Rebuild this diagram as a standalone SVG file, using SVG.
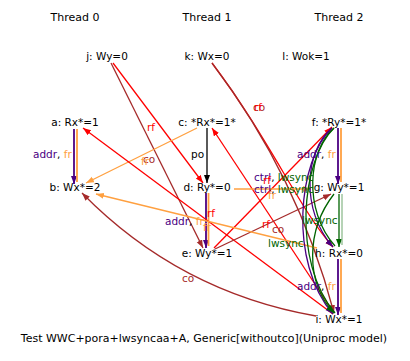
<svg xmlns="http://www.w3.org/2000/svg" width="410" height="361" viewBox="0 0 410 361">
<defs>
<style>
text{font-family:"DejaVu Sans","Liberation Sans",sans-serif;font-size:10.5px;fill:#000}
.th{font-size:11px;text-anchor:middle}
.nd{text-anchor:middle}
.cap{font-size:11px;text-anchor:middle}
.e{fill:none;stroke-width:1.3}
.d{fill:none;stroke-width:1.8}
.red{stroke:#ff0000}.brn{stroke:#a52a2a}.org{stroke:#ffa040}.pur{stroke:#4b0082}.blk{stroke:#000}.grn{stroke:#006400}.lgr{stroke:#8fbc8f}
.tred{fill:#ff0000}.tbrn{fill:#a52a2a}.torg{fill:#ffa040}.tpur{fill:#4b0082}.tgrn{fill:#006400}
</style>
<marker id="mred" markerUnits="userSpaceOnUse" markerWidth="9" markerHeight="7" refX="8" refY="3" orient="auto"><path d="M0,0L8,3L0,6z" fill="#ff0000"/></marker>
<marker id="mbrn" markerUnits="userSpaceOnUse" markerWidth="9" markerHeight="7" refX="8" refY="3" orient="auto"><path d="M0,0L8,3L0,6z" fill="#a52a2a"/></marker>
<marker id="morg" markerUnits="userSpaceOnUse" markerWidth="9" markerHeight="7" refX="8" refY="3" orient="auto"><path d="M0,0L8,3L0,6z" fill="#ffa040"/></marker>
<marker id="mpur" markerUnits="userSpaceOnUse" markerWidth="9" markerHeight="7" refX="8" refY="3" orient="auto"><path d="M0,0L8,3L0,6z" fill="#4b0082"/></marker>
<marker id="mblk" markerUnits="userSpaceOnUse" markerWidth="9" markerHeight="7" refX="8" refY="3" orient="auto"><path d="M0,0L8,3L0,6z" fill="#000"/></marker>
<marker id="mgrn" markerUnits="userSpaceOnUse" markerWidth="9" markerHeight="7" refX="8" refY="3" orient="auto"><path d="M0,0L8,3L0,6z" fill="#006400"/></marker>
</defs>
<rect width="410" height="361" fill="#fff"/>
<g id="threads">
<text class="th" x="75" y="21">Thread 0</text>
<text class="th" x="207" y="21">Thread 1</text>
<text class="th" x="339" y="21">Thread 2</text>
</g>
<g id="connectors">
<!-- a->b addr,fr -->
<line class="d pur" x1="74" y1="129" x2="74" y2="184" marker-end="url(#mpur)"/>
<line class="d org" x1="77" y1="129" x2="77" y2="182"/>
<!-- c->d po -->
<line class="e blk" x1="207" y1="128" x2="207" y2="183" marker-end="url(#mblk)"/>
<!-- d->e addr,fr -->
<line class="d pur" x1="206" y1="193" x2="206" y2="248" marker-end="url(#mpur)"/>
<line class="d org" x1="208.5" y1="193" x2="208.5" y2="246"/>
<!-- f->g addr,fr -->
<line class="d pur" x1="338" y1="128" x2="338" y2="184" marker-end="url(#mpur)"/>
<line class="d org" x1="341" y1="128" x2="341" y2="182"/>
<!-- h->i addr,fr -->
<line class="d pur" x1="338" y1="259" x2="338" y2="315" marker-end="url(#mpur)"/>
<line class="d org" x1="341" y1="259" x2="341" y2="313"/>
<!-- g->h lwsync -->
<line class="e grn" x1="339" y1="194" x2="339" y2="247" marker-end="url(#mgrn)"/>
<line class="e lgr" x1="342" y1="194" x2="342" y2="245"/>
<!-- j->d rf -->
<line class="e red" x1="113" y1="63" x2="203" y2="183" marker-end="url(#mred)"/>
<!-- j->e co -->
<line class="e brn" x1="111" y1="63" x2="203" y2="248" marker-end="url(#mbrn)"/>
<!-- c->b fr -->
<line class="e org" x1="197" y1="128" x2="86" y2="183" marker-end="url(#morg)"/>
<!-- k->h rf -->
<path class="e red" d="M212,63C270,140 300,210 333,247" marker-end="url(#mred)"/>
<!-- k->i co -->
<path class="e brn" d="M212,63Q298,176 334,313" marker-end="url(#mbrn)"/>
<!-- i->a rf -->
<line class="e red" x1="333" y1="314" x2="83" y2="128" marker-end="url(#mred)"/>
<!-- i->c rf -->
<line class="e red" x1="334" y1="313" x2="212" y2="128" marker-end="url(#mred)"/>
<!-- e->f rf -->
<line class="e red" x1="214" y1="248" x2="332" y2="127" marker-end="url(#mred)"/>
<!-- e->g co -->
<line class="e brn" x1="215" y1="249" x2="331" y2="194" marker-end="url(#mbrn)"/>
<!-- d->g fr -->
<line class="e org" x1="234" y1="189" x2="311" y2="189" marker-end="url(#morg)"/>
<!-- h->b fr -->
<line class="e org" x1="317" y1="248" x2="96" y2="194" marker-end="url(#morg)"/>
<!-- i->b co -->
<path class="e brn" d="M316,316Q179,292 82,193" marker-end="url(#mbrn)"/>
<!-- f->h ctrl,lwsync -->
<path class="e pur" d="M332,128C305,150 300,210 333,247" marker-end="url(#mpur)"/>
<path class="e grn" d="M334,128C308,150 303,210 335,246"/>
<!-- f->i ctrl,lwsync -->
<path class="e pur" d="M332,128C298,160 288,262 333,314" marker-end="url(#mpur)"/>
<path class="e grn" d="M334,128C301,160 292,262 335,313"/>
<!-- g->i lwsync -->
<path class="e grn" d="M334,194C306,230 305,282 334,313" marker-end="url(#mgrn)"/>
</g>
<g id="labels">
<text x="33" y="158"><tspan class="tpur">addr</tspan>, <tspan class="torg">fr</tspan></text>
<text x="191" y="158">po</text>
<text x="165" y="225"><tspan class="tpur">addr</tspan>, <tspan class="torg">fr</tspan></text>
<text x="297" y="158"><tspan class="tpur">addr</tspan>, <tspan class="torg">fr</tspan></text>
<text x="297" y="290"><tspan class="tpur">addr</tspan>, <tspan class="torg">fr</tspan></text>
<text x="254" y="181"><tspan class="tpur">ctrl</tspan>, <tspan class="tgrn">lwsync</tspan></text>
<text x="254" y="193"><tspan class="tpur">ctrl</tspan>, <tspan class="tgrn">lwsync</tspan></text>
<text class="tgrn" x="302" y="224">lwsync</text>
<text class="tgrn" x="268" y="247">lwsync</text>
<text class="tred" x="147" y="131">rf</text>
<text class="tbrn" x="253" y="111">co</text>
<text class="tred" x="254" y="111">rf</text>
<text class="tred" x="207" y="217">rf</text>
<text class="tred" x="262" y="228">rf</text>
<text class="tbrn" x="272" y="233">co</text>
<text class="tred" x="263" y="184">rf</text>
<text class="tbrn" x="143" y="163">co</text>
<text class="torg" x="141" y="165">fr</text>
<text class="torg" x="268" y="199">fr</text>
<text class="torg" x="203" y="231">fr</text>
<text class="tbrn" x="182" y="282">co</text>
</g>
<g id="j"><text class="nd" x="107" y="60">j: Wy=0</text></g>
<g id="k"><text class="nd" x="207" y="60">k: Wx=0</text></g>
<g id="l"><text class="nd" x="306" y="60">l: Wok=1</text></g>
<g id="a"><text class="nd" x="75" y="126">a: Rx*=1</text></g>
<g id="c"><text class="nd" x="207" y="126">c: *Rx*=1*</text></g>
<g id="f"><text class="nd" x="339" y="126">f: *Ry*=1*</text></g>
<g id="b"><text class="nd" x="75" y="191">b: Wx*=2</text></g>
<g id="d"><text class="nd" x="207" y="191">d: Ry*=0</text></g>
<g id="g"><text class="nd" x="339" y="191">g: Wy*=1</text></g>
<g id="e"><text class="nd" x="207" y="257">e: Wy*=1</text></g>
<g id="h"><text class="nd" x="339" y="257">h: Rx*=0</text></g>
<g id="i"><text class="nd" x="339" y="323">i: Wx*=1</text></g>
<text class="cap" x="204" y="342">Test WWC+pora+lwsyncaa+A, Generic[withoutco](Uniproc model)</text>
</svg>
